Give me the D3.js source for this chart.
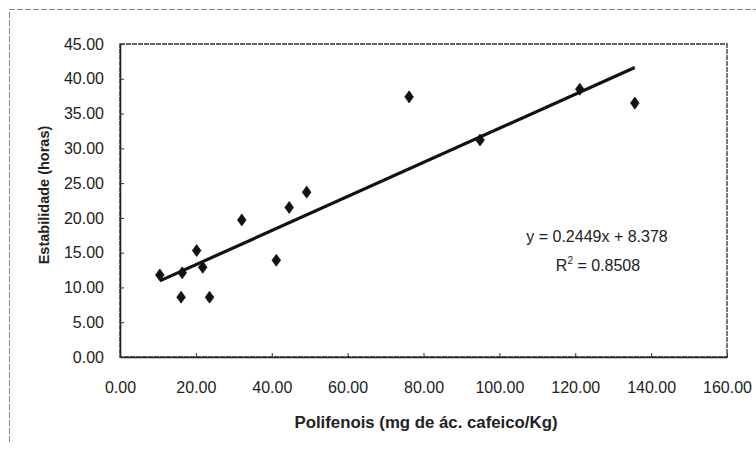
<!DOCTYPE html>
<html>
<head>
<meta charset="utf-8">
<script src="https://cdn.jsdelivr.net/npm/d3@7"></script>
<style>
  html, body { margin: 0; padding: 0; background: #fff; }
  svg { display: block; font-family: "Liberation Sans", Arial, sans-serif; }
</style>
</head>
<body>
<div id="chart"></div>
<script>
// Polifenois (mg de ác. cafeico/Kg) vs Estabilidade (horas)
const polifenois = [10.5, 16.4, 16.1, 20.2, 21.8, 23.6, 41.2, 32.1, 44.6, 49.2, 76.2, 94.9, 121.2, 135.7];
const estabilidade = [11.8, 12.1, 8.6, 15.3, 12.9, 8.6, 13.9, 19.7, 21.5, 23.7, 37.4, 31.2, 38.5, 36.5];
const xTicks = [0, 20, 40, 60, 80, 100, 120, 140, 160];
const yTicks = [0, 5, 10, 15, 20, 25, 30, 35, 40, 45];
const slope = 0.2449, intercept = 8.378;
const eqText = 'y = 0.2449x + 8.378';
const r2Value = '0.8508';

const width = 756, height = 449;
const margin = { top: 44, right: 29, bottom: 92, left: 120 };

const svg = d3.select('#chart').append('svg')
  .attr('width', width)
  .attr('height', height);

// outer chart border: only the left and top edges show in the scan
svg.append('path')
  .attr('d', 'M9.5,442V9.5H756')
  .attr('fill', 'none')
  .attr('stroke', '#888')
  .attr('stroke-width', 1)
  .attr('stroke-dasharray', '6,2');

const x = d3.scaleLinear().domain([0, 160]).range([margin.left, width - margin.right]);
const y = d3.scaleLinear().domain([0, 45]).range([height - margin.bottom, margin.top]);

// plot frame
svg.append('rect')
  .attr('x', x(0)).attr('y', y(45))
  .attr('width', x(160) - x(0))
  .attr('height', y(0) - y(45))
  .attr('fill', 'none')
  .attr('stroke', '#333')
  .attr('stroke-width', 1.3)
  .attr('stroke-dasharray', '5,1');

const fmt = d3.format('.2f');

const xAxis = svg.append('g')
  .attr('transform', `translate(0,${y(0)})`)
  .call(d3.axisBottom(x).tickValues(xTicks).tickFormat(fmt).tickSizeInner(-4).tickSizeOuter(0).tickPadding(25));
const yAxis = svg.append('g')
  .attr('transform', `translate(${x(0)},0)`)
  .call(d3.axisLeft(y).tickValues(yTicks).tickFormat(fmt).tickSizeInner(-4).tickSizeOuter(0).tickPadding(16));

[xAxis, yAxis].forEach(g => {
  g.select('.domain').attr('stroke', '#222').attr('stroke-width', 1.6);
  g.selectAll('.tick line').attr('stroke', '#333');
  g.selectAll('.tick text')
    .attr('font-size', '16px')
    .attr('fill', '#222')
    .attr('font-family', '"Liberation Sans", Arial, sans-serif');
});

// trendline over the data range
const [xmin, xmax] = d3.extent(polifenois);
svg.append('line')
  .attr('x1', x(xmin)).attr('y1', y(slope * xmin + intercept))
  .attr('x2', x(xmax)).attr('y2', y(slope * xmax + intercept))
  .attr('stroke', '#111')
  .attr('stroke-width', 3.2);

// diamond markers
const diamond = d3.symbol().type(d3.symbolDiamond).size(42);
svg.append('g')
  .selectAll('path')
  .data(polifenois.map((v, i) => [v, estabilidade[i]]))
  .join('path')
  .attr('d', diamond)
  .attr('transform', d => `translate(${x(d[0])},${y(d[1])}) scale(1.25,1)`)
  .attr('fill', '#111')
  .attr('stroke', '#111')
  .attr('stroke-width', 0.6);

// equation and R²
svg.append('text')
  .attr('x', 597).attr('y', 242)
  .attr('text-anchor', 'middle')
  .attr('font-size', '16px')
  .attr('fill', '#222')
  .text(eqText);

const r2 = svg.append('text')
  .attr('x', 598).attr('y', 271)
  .attr('text-anchor', 'middle')
  .attr('font-size', '16px')
  .attr('fill', '#222');
r2.append('tspan').text('R');
r2.append('tspan').attr('dy', -7).attr('font-size', '10px').text('2');
r2.append('tspan').attr('dy', 7).text(' = ' + r2Value);

// axis titles
svg.append('text')
  .attr('x', 426).attr('y', 428)
  .attr('text-anchor', 'middle')
  .attr('font-size', '16.8px')
  .attr('font-weight', 'bold')
  .attr('fill', '#222')
  .text('Polifenois (mg de ác. cafeico/Kg)');

svg.append('text')
  .attr('transform', 'translate(49,195) rotate(-90)')
  .attr('text-anchor', 'middle')
  .attr('font-size', '14.5px')
  .attr('font-weight', 'bold')
  .attr('fill', '#222')
  .text('Estabilidade (horas)');
</script>
</body>
</html>
